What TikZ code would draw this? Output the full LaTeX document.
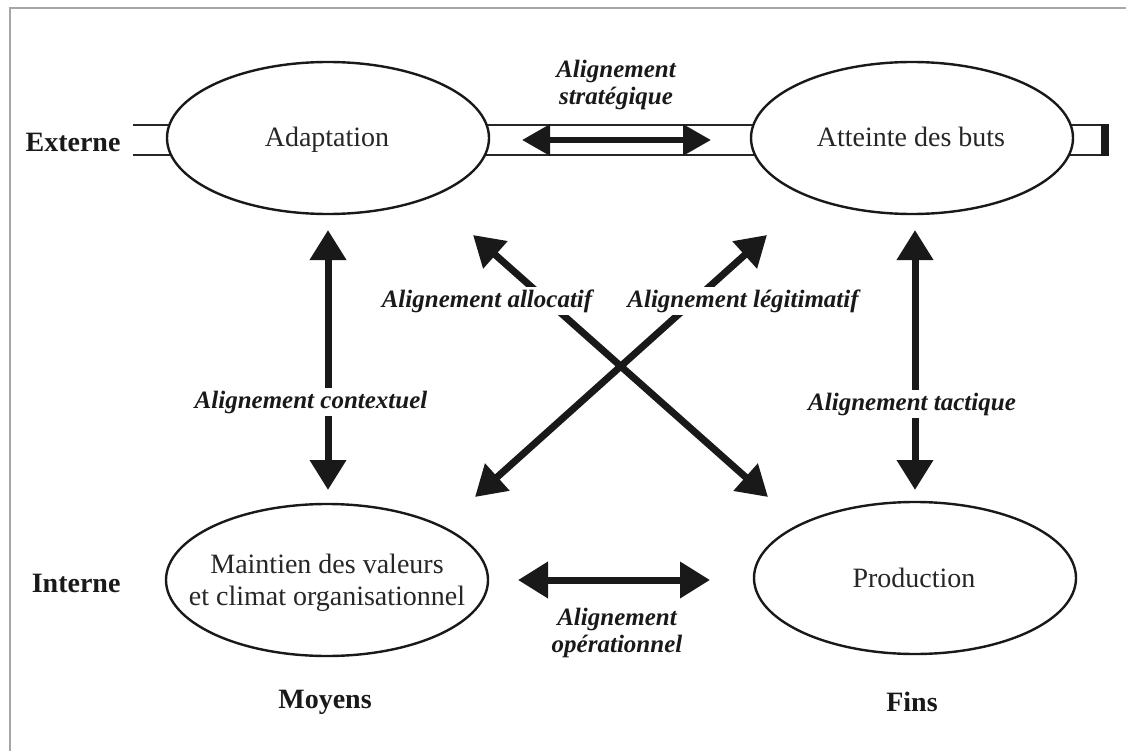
\documentclass[tikz,border=0pt]{standalone}
\usepackage{fontspec}
\setmainfont{Liberation Serif}
\usetikzlibrary{arrows.meta,shapes.geometric}
\begin{document}
\begin{tikzpicture}[x=1pt,y=-1pt,
  ell/.style={ellipse, draw=black!90, line width=2.4pt, fill=white, minimum width=322pt, minimum height=152pt, inner sep=0pt},
  etext/.style={inner sep=0pt, align=center, font=\fontsize{28}{32}\selectfont, text=black!85},
  lab/.style={font=\fontsize{25}{27.5}\selectfont\bfseries\itshape, text=black!90, fill=white, inner sep=3pt, align=center},
  side/.style={font=\fontsize{28}{32}\selectfont\bfseries, text=black!90},
  arr/.style={line width=7pt, draw=black!90, {Triangle[length=30pt,width=35pt]}-{Triangle[length=30pt,width=35pt]}},
  sarr/.style={line width=6pt, draw=black!90, {Triangle[length=28pt,width=30pt]}-{Triangle[length=28pt,width=30pt]}},
  barline/.style={line width=2.2pt, draw=black!85},
  frameline/.style={line width=1.6pt, draw=black!35}
]
\useasboundingbox (0,0) rectangle (1126,751);
\draw[frameline] (10,751) -- (10,8) -- (1126,8);

% bar (externe)
\coordinate (bTL) at (133,125); \coordinate (bBL) at (133,155);
\coordinate (bTR) at (1108,125); \coordinate (bBR) at (1108,155);
\draw[barline] (bTL) -- (bTR);
\draw[barline] (bBL) -- (bBR);
\fill[black!90] (1101,124) rectangle (1109,156);

% ellipses
\node[ell] (adapt) at (328,138) {};
\node[ell] (buts) at (912,138) {};
\node[ell] (maint) at (327,580) {};
\node[ell] (prod) at (915,578) {};
\node[etext, anchor=base] (tadapt) at (327,147) {Adaptation};
\node[etext, anchor=base] (tbuts) at (911,147) {Atteinte des buts};
\node[etext] (tmaint) at (327,583) {Maintien des valeurs\\et climat organisationnel};
\node[etext, anchor=base] (tprod) at (914,587) {Production};

% side labels
\node[side, anchor=east] (ext) at (124,142) {Externe};
\node[side, anchor=east] (int) at (124,583) {Interne};
\node[side] (moy) at (325,702) {Moyens};
\node[side] (fins) at (912,702) {Fins};

% arrow end points
\coordinate (sL) at (522,140); \coordinate (sR) at (711,140);
\coordinate (cT) at (328,230); \coordinate (cB) at (328,490);
\coordinate (tT) at (915,230); \coordinate (tB) at (915,490);
\coordinate (aT) at (473,235); \coordinate (aB) at (768,497);
\coordinate (gT) at (767,235); \coordinate (gB) at (475,497);
\coordinate (oL) at (518,580); \coordinate (oR) at (710,580);

\draw[sarr] (sL) -- (sR);
\draw[arr] (cT) -- (cB);
\draw[arr] (tT) -- (tB);
\draw[arr] (aT) -- (aB);
\draw[arr] (gT) -- (gB);
\draw[arr] (oL) -- (oR);

% labels
\node[lab, fill=none] (lstrat) at (616,85) {Alignement\\stratégique};
\node[lab] (lctx) at (311,402) {Alignement contextuel};
\node[lab] (ltac) at (912,404) {Alignement tactique};
\node[lab] (lall) at (487,301) {Alignement allocatif};
\node[lab] (lleg) at (743,301) {Alignement légitimatif};
\node[lab, fill=none] (lop) at (617,633) {Alignement\\opérationnel};
\end{tikzpicture}
\end{document}
